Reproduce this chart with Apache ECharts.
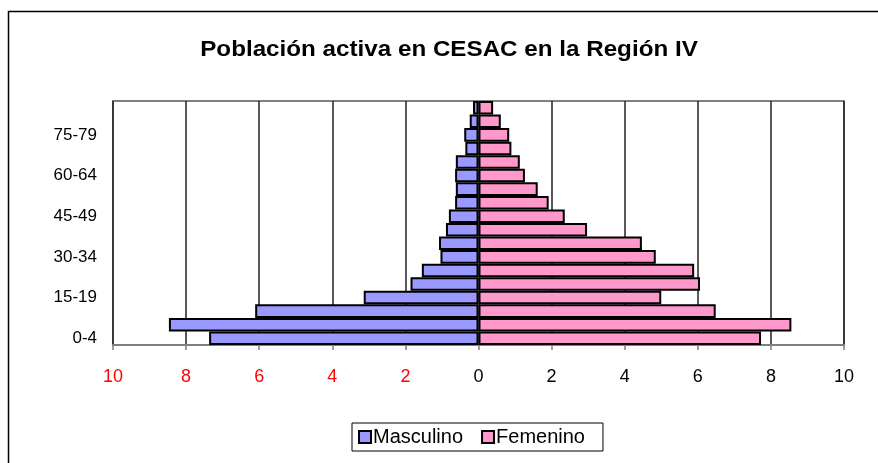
<!DOCTYPE html>
<html>
<head>
<meta charset="utf-8">
<script src="https://cdn.jsdelivr.net/npm/echarts@6/dist/echarts.min.js"></script>
<style>
html,body{margin:0;padding:0;background:#fff;}
#c{width:878px;height:463px;}
</style>
</head>
<body>
<div id="c"></div>
<script>
var categories = ['0-4','5-9','10-14','15-19','20-24','25-29','30-34','35-39','40-44','45-49','50-54','55-59','60-64','65-69','70-74','75-79','80-84','85-89'];
var masculino = [7.37, 8.47, 6.11, 3.14, 1.86, 1.55, 1.04, 1.08, 0.89, 0.81, 0.64, 0.62, 0.64, 0.62, 0.36, 0.39, 0.24, 0.15];
var femenino = [7.73, 8.56, 6.49, 5.0, 6.06, 5.90, 4.85, 4.47, 2.97, 2.36, 1.92, 1.62, 1.27, 1.13, 0.90, 0.84, 0.61, 0.40];
var xTicks = {min: -10, max: 10, interval: 2};
var titleText = 'Población activa en CESAC en la Región IV';

var chart = echarts.init(document.getElementById('c'), null, {renderer: 'canvas'});
var font = 'Liberation Sans, Arial, sans-serif';
chart.setOption({
  animation: false,
  backgroundColor: '#fff',
  textStyle: {fontFamily: font},
  graphic: [{
    type: 'rect', left: 6, top: 9, z: -1,
    shape: {width: 900, height: 500},
    style: {fill: 'none', stroke: '#000', lineWidth: 1.5}
  }, {
    type: 'text', x: 449, y: 50, scaleX: 1.1, z: 10,
    style: {
      text: titleText, fill: '#000',
      font: 'bold 22px Liberation Sans, Arial, sans-serif',
      textAlign: 'center', textVerticalAlign: 'middle'
    }
  }],
  legend: {
    data: ['Masculino', 'Femenino'],
    left: 352, top: 423,
    padding: [4, 18, 4, 6],
    itemGap: 18,
    itemWidth: 12, itemHeight: 12,
    icon: 'rect',
    borderColor: '#000', borderWidth: 1,
    itemStyle: {borderColor: '#000', borderWidth: 2},
    textStyle: {fontFamily: font, fontSize: 20, color: '#000', padding: [0, 0, 0, -3]}
  },
  grid: {
    left: 113, right: 34, top: 101, bottom: 118,
    show: true, borderColor: '#808080', borderWidth: 2, backgroundColor: '#fff'
  },
  xAxis: {
    type: 'value',
    min: xTicks.min, max: xTicks.max, interval: xTicks.interval,
    axisLine: {show: true, lineStyle: {color: '#808080', width: 2}},
    axisTick: {show: true, length: 5, lineStyle: {color: '#808080', width: 1.5}},
    splitLine: {show: true, lineStyle: {color: '#222', width: 1.5}},
    axisLabel: {
      margin: 23,
      fontFamily: font, fontSize: 18,
      formatter: function (v) { return String(Math.abs(v)); },
      color: function (v) { return Number(v) < 0 ? '#FF0000' : '#000000'; }
    }
  },
  yAxis: {
    type: 'category',
    data: categories,
    axisLine: {show: true, lineStyle: {color: '#808080', width: 2}},
    axisTick: {show: false},
    axisLabel: {interval: 2, margin: 16, fontFamily: font, fontSize: 17, color: '#000'}
  },
  series: [{
    name: 'Masculino', type: 'bar',
    data: masculino.map(function (v) { return -v; }),
    barCategoryGap: '0%', barGap: '-100%',
    itemStyle: {color: '#9999FF', borderColor: '#000', borderWidth: 2}
  }, {
    name: 'Femenino', type: 'bar',
    data: femenino,
    barCategoryGap: '0%', barGap: '-100%',
    itemStyle: {color: '#FF99CC', borderColor: '#000', borderWidth: 2}
  }]
});
</script>
</body>
</html>
